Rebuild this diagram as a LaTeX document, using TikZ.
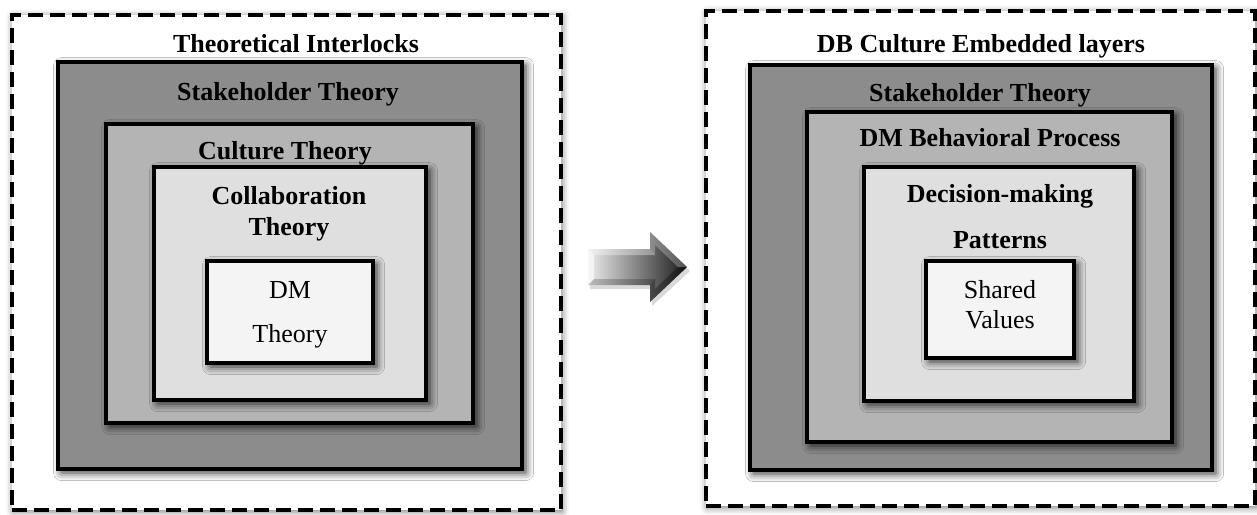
\documentclass[tikz,border=0pt]{standalone}
\usepackage{fontspec}
\setmainfont{Liberation Serif}
\usetikzlibrary{shadows.blur,fit}

\definecolor{tone1}{gray}{0.55}
\definecolor{tone2}{gray}{0.705}
\definecolor{tone3}{gray}{0.875}
\definecolor{tone4}{gray}{0.955}

\tikzset{
  frame/.style={draw=black, line width=2.2pt, dash pattern=on 7.5pt off 3.5pt,
    fill=white, inner sep=0pt, outer sep=0pt,
    blur shadow={shadow xshift=0.6pt, shadow yshift=-0.8pt,
      shadow blur radius=3.5pt, shadow opacity=55}},
  layer/.style={draw=black, line width=2pt, inner sep=0pt, outer sep=0pt,
    blur shadow={shadow xshift=1.8pt, shadow yshift=-1.8pt,
      shadow blur radius=4pt, shadow opacity=85}},
  head/.style={font=\fontsize{13}{15.5}\selectfont\bfseries, align=center, inner sep=0pt},
  core/.style={font=\fontsize{13}{15}\selectfont, align=center, inner sep=0pt},
}

\begin{document}
\begin{tikzpicture}[x=0.5pt, y=-0.5pt]
\useasboundingbox (0,0) rectangle (1257,514);

% ---- left panel: theoretical interlocks ----
\node[frame, fit={(12,15) (561,510)}] (outerL) {};
\node[layer, fill=tone1, fit={(58,62) (522,469)}] (stakeL) {};
\node[layer, fill=tone2, fit={(106,124) (473,423)}] (cultL) {};
\node[layer, fill=tone3, fit={(154,167) (426,400)}] (collL) {};
\node[layer, fill=tone4, fit={(207,261) (373,363)}] (dmL) {};

\node[head, anchor=base] (titleL) at (296,52) {Theoretical Interlocks};
\node[head, anchor=base] (stakeLtxt) at (288,100) {Stakeholder Theory};
\node[head, anchor=base] (cultLtxt) at (285,159) {Culture Theory};
\node[head] (collLtxt) at (289,213.5) {Collaboration\\Theory};
\node[core] (dmLtxt) at (290,314.7) {DM\\[7pt]Theory};

% ---- block arrow between the panels ----
\begin{scope}
  \fill[black, opacity=0.15] (590,252) -- (652,252) -- (652,236) -- (690,271)
      -- (652,306) -- (652,289) -- (590,289) -- cycle;
  \shade[left color=gray!15, right color=black!90]
      (588,249) -- (650,249) -- (650,232) -- (687,267) -- (650,302)
      -- (650,285) -- (588,285) -- cycle;
  % bevel facets
  \fill[white, opacity=0.6] (588,249) -- (594,255) -- (594,279) -- (588,285) -- cycle;
  \fill[white, opacity=0.35] (588,249) -- (650,249) -- (655,255) -- (594,255) -- cycle;
  \fill[black, opacity=0.2] (588,285) -- (594,279) -- (655,279) -- (650,285) -- cycle;
  \fill[white, opacity=0.25] (650,249) -- (650,232) -- (687,267) -- (678,267)
      -- (655,245) -- (655,255) -- cycle;
  \fill[black, opacity=0.3] (650,285) -- (650,302) -- (687,267) -- (678,267)
      -- (655,289) -- (655,279) -- cycle;
\end{scope}

% ---- right panel: embedded culture layers ----
\node[frame, fit={(706,11) (1255,506)}] (outerR) {};
\node[layer, fill=tone1, fit={(750,65) (1212,470)}] (stakeR) {};
\node[layer, fill=tone2, fit={(807,112) (1172,442)}] (procR) {};
\node[layer, fill=tone3, fit={(864,167) (1134,401)}] (decR) {};
\node[layer, fill=tone4, fit={(926,261) (1074,358)}] (valR) {};

\node[head, anchor=base] (titleR) at (981,52) {DB Culture Embedded layers};
\node[head, anchor=base] (stakeRtxt) at (980,101) {Stakeholder Theory};
\node[head, anchor=base] (procRtxt) at (990,146) {DM Behavioral Process};
\node[head] (decRtxt) at (1000,216.3) {Decision-making\\[7.5pt]Patterns};
\node[core] (valRtxt) at (1000,304.7) {Shared\\Values};
\end{tikzpicture}
\end{document}
